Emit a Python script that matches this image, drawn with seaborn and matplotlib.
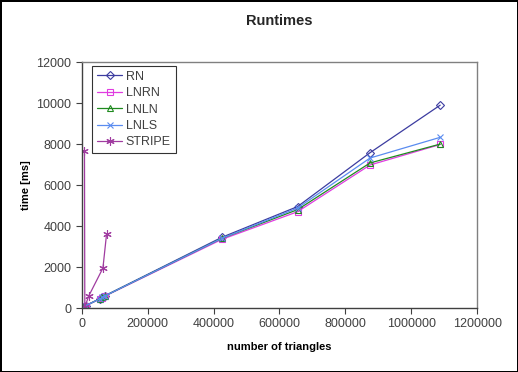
import pandas as pd
import matplotlib.pyplot as plt
import seaborn as sns
from matplotlib.ticker import ScalarFormatter

# number of triangles per test model
triangles = [500, 2000, 6000, 12000, 55000, 62000, 70000, 425000, 655000, 875000, 1088000]

# runtimes in ms
rn = [10, 30, 60, 120, 460, 530, 600, 3450, 4950, 7580, 9900]
lnrn = [10, 30, 55, 110, 440, 510, 580, 3350, 4700, 6980, 7980]
lnln = [10, 30, 55, 115, 450, 520, 590, 3400, 4800, 7080, 8000]
lnls = [10, 30, 60, 115, 450, 520, 590, 3400, 4880, 7320, 8330]

stripe_triangles = [8000, 9000, 21000, 64000, 75000]
stripe = [7650, 50, 590, 1950, 3600]

series = {
    'RN': (triangles, rn, '#3c3ca0', 'D', 4.5),
    'LNRN': (triangles, lnrn, '#e03ce0', 's', 5),
    'LNLN': (triangles, lnln, '#1f8a1f', '^', 5),
    'LNLS': (triangles, lnls, '#5a8cf0', 'x', 5),
    'STRIPE': (stripe_triangles, stripe, '#a03ca0', (6, 2, 0), 6),
}

sns.set_theme(style="white")
plt.rcParams['font.family'] = ['Liberation Sans', 'DejaVu Sans']

fig = plt.figure(figsize=(5.18, 3.72), dpi=100)
ax = fig.add_axes([0.158, 0.172, 0.763, 0.661])

for name, (xs, ys, color, mk, ms) in series.items():
    df = pd.DataFrame({'triangles': xs, 'time': ys})
    sns.lineplot(data=df, x='triangles', y='time', sort=False, ax=ax,
                 color=color, label=name, linewidth=0.9,
                 marker=mk, markersize=ms, markerfacecolor='none',
                 markeredgecolor=color, markeredgewidth=0.8)

ax.set_xlim(0, 1200000)
ax.set_ylim(0, 12000)
ax.set_xticks(range(0, 1200001, 200000))
ax.set_yticks(range(0, 12001, 2000))
fmt = ScalarFormatter()
fmt.set_scientific(False)
fmt.set_useOffset(False)
ax.xaxis.set_major_formatter(fmt)
ax.tick_params(axis='both', labelsize=9, labelcolor='#404040', direction='out',
               length=4, width=0.8, color='#404040', bottom=True, left=True)

for side in ['top', 'right']:
    ax.spines[side].set_color('#808080')
    ax.spines[side].set_linewidth(1.0)
for side in ['left', 'bottom']:
    ax.spines[side].set_color('#404040')
    ax.spines[side].set_linewidth(1.0)

ax.set_xlabel('number of triangles', fontsize=8, fontweight='bold', color='black', labelpad=8)
ax.set_ylabel('time [ms]', fontsize=8, fontweight='bold', color='black', labelpad=4)
ax.set_title('Runtimes', fontsize=10.5, fontweight='bold', pad=27)

leg = ax.legend(loc='upper left', bbox_to_anchor=(0.026, 0.985), fontsize=9,
                frameon=True, fancybox=False, edgecolor='black',
                handlelength=2.0, borderpad=0.4, labelspacing=0.35,
                handletextpad=0.3, borderaxespad=0)
leg.get_frame().set_linewidth(0.8)
for t in leg.get_texts():
    t.set_color('#404040')

fig.patch.set_edgecolor('black')
fig.patch.set_linewidth(2)

plt.savefig('out.png', dpi=100, edgecolor=fig.get_edgecolor())
plt.close()
